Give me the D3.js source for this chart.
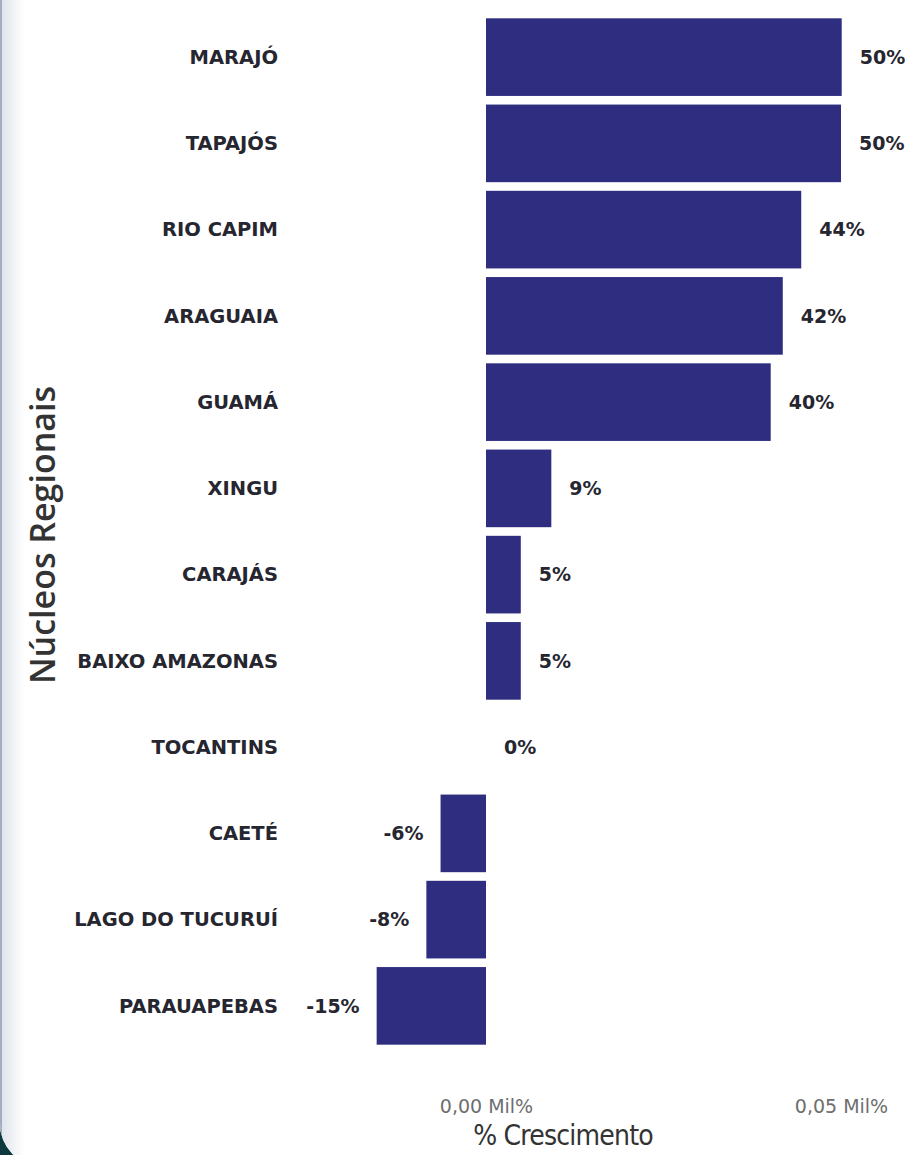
<!DOCTYPE html>
<html>
<head>
<meta charset="utf-8">
<script src="https://cdn.jsdelivr.net/npm/d3@7"></script>
<style>
  html, body { margin: 0; padding: 0; background: #fff; }
  svg { display: block; }
  .cat { font-family: "DejaVu Sans", sans-serif; font-weight: bold; fill: #262630; }
  .val { font-family: "DejaVu Sans", sans-serif; font-weight: bold; fill: #262630; }
  .tick text { font-family: "DejaVu Sans", sans-serif; fill: #6e6e6e; }
  .title { font-family: "DejaVu Sans Condensed", "DejaVu Sans", sans-serif; fill: #333; }
  .ytitle { font-family: "Open Sans", sans-serif; font-weight: 600; fill: #333; }
</style>
</head>
<body>
<svg width="906" height="1155"></svg>
<script>
// data
var regions = ["MARAJÓ", "TAPAJÓS", "RIO CAPIM", "ARAGUAIA", "GUAMÁ", "XINGU",
  "CARAJÁS", "BAIXO AMAZONAS", "TOCANTINS", "CAETÉ", "LAGO DO TUCURUÍ", "PARAUAPEBAS"];
var growth = [50.1, 50.0, 44.4, 41.8, 40.1, 9.2, 4.9, 4.9, 0.0, -6.4, -8.4, -15.4];
var tickValues = [0, 50];

var svg = d3.select("svg"),
    width = +svg.attr("width"),
    height = +svg.attr("height");

// card background: dark corner at bottom left, soft shade on the left edge
var defs = svg.append("defs");
var grad = defs.append("linearGradient").attr("id", "shade");
grad.append("stop").attr("offset", "0%").attr("stop-color", "#dde2ea");
grad.append("stop").attr("offset", "100%").attr("stop-color", "#ffffff");
defs.append("clipPath").attr("id", "card")
  .append("rect")
  .attr("x", 0).attr("y", -60)
  .attr("width", width + 60).attr("height", 1226)
  .attr("rx", 42).attr("ry", 42);

svg.append("rect").attr("width", width).attr("height", height).attr("fill", "#0c3a3c");
var card = svg.append("g").attr("clip-path", "url(#card)");
card.append("rect").attr("width", width).attr("height", height).attr("fill", "#fff");
card.append("rect").attr("x", 0).attr("width", 24).attr("height", height).attr("fill", "url(#shade)");
card.append("rect").attr("x", 0).attr("width", 2).attr("height", height).attr("fill", "#a3aec0");

var data = regions.map(function(r, i) { return { name: r, value: growth[i] }; });

var x = d3.scaleLinear().domain([0, 50]).range([486, 841]);
var y = d3.scaleBand().domain(regions).range([14, 1049]).paddingInner(0.1).paddingOuter(0.05);

// bars
svg.append("g")
  .selectAll("rect")
  .data(data)
  .enter().append("rect")
  .attr("x", function(d) { return Math.min(x(0), x(d.value)); })
  .attr("y", function(d) { return y(d.name); })
  .attr("width", function(d) { return Math.abs(x(d.value) - x(0)); })
  .attr("height", y.bandwidth())
  .attr("fill", "#2e2d80");

// category labels
svg.append("g")
  .selectAll("text")
  .data(data)
  .enter().append("text")
  .attr("class", "cat")
  .attr("x", 278)
  .attr("y", function(d) { return y(d.name) + y.bandwidth() / 2; })
  .attr("dy", "0.35em")
  .attr("text-anchor", "end")
  .style("font-size", "19.5px")
  .text(function(d) { return d.name; });

// value labels
svg.append("g")
  .selectAll("text")
  .data(data)
  .enter().append("text")
  .attr("class", "val")
  .attr("x", function(d) { return d.value < 0 ? x(d.value) - 17 : x(d.value) + 18; })
  .attr("y", function(d) { return y(d.name) + y.bandwidth() / 2; })
  .attr("dy", "0.35em")
  .attr("text-anchor", function(d) { return d.value < 0 ? "end" : "start"; })
  .style("font-size", "19px")
  .text(function(d) { return Math.round(d.value) + "%"; });

// x axis
var xAxis = d3.axisBottom(x)
  .tickValues(tickValues)
  .tickSize(0)
  .tickFormat(function(d) { return d3.format(".2f")(d / 1000).replace(".", ",") + " Mil%"; });

var gx = svg.append("g")
  .attr("transform", "translate(0,1096)")
  .call(xAxis);
gx.select(".domain").remove();
gx.selectAll(".tick text").style("font-size", "19px");

// axis titles
svg.append("text")
  .attr("class", "title")
  .attr("x", 563)
  .attr("y", 1145)
  .attr("text-anchor", "middle")
  .style("font-size", "28px")
  .style("letter-spacing", "-0.8px")
  .text("% Crescimento");

svg.append("text")
  .attr("class", "ytitle")
  .attr("transform", "translate(55,535) rotate(-90)")
  .attr("text-anchor", "middle")
  .style("font-size", "34px")
  .text("Núcleos Regionais");
</script>
</body>
</html>
